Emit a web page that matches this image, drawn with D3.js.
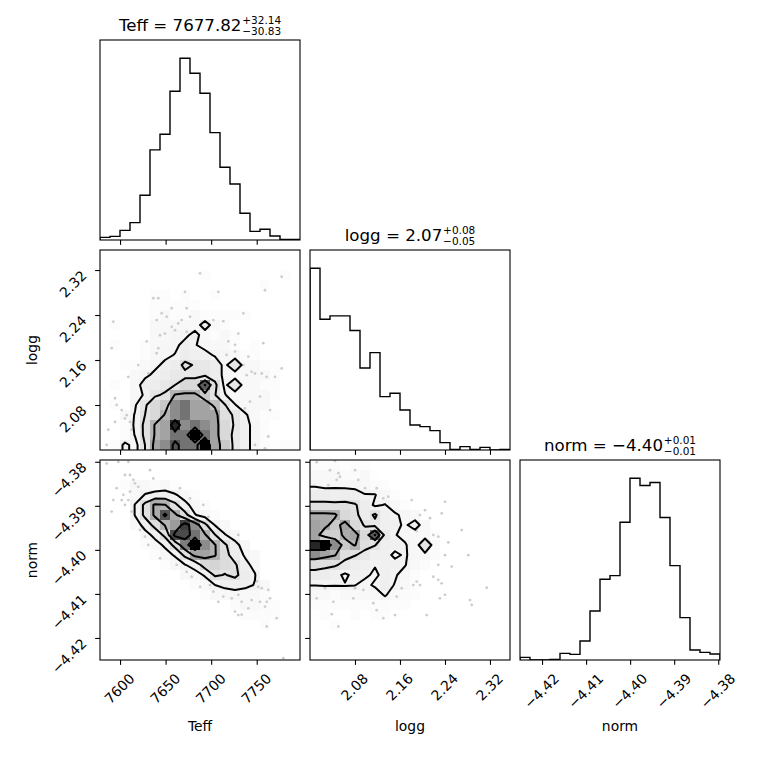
<!DOCTYPE html>
<html><head><meta charset="utf-8">
<script src="https://cdn.jsdelivr.net/npm/d3@7/dist/d3.min.js"></script>
<style>
html,body{margin:0;padding:0;background:#fff;}
svg text{font-family:"DejaVu Sans",sans-serif;fill:#000;}
</style>
</head><body>
<svg id="fig" width="760" height="760" xmlns="http://www.w3.org/2000/svg"></svg>
<script>
// ---------------- DATA ----------------
const paramNames = ["Teff", "logg", "norm"];
const teffRange = [7578.0, 7797.5];
const loggRange = [2.0, 2.3556];
const normRange = [-4.4250, -4.3796];
const teffTicks = [7600, 7650, 7700, 7750];
const loggTicks = [2.08, 2.16, 2.24, 2.32];
const normTicks = [-4.42, -4.41, -4.40, -4.39, -4.38];

// 1D histogram counts (20 bins each, relative units)
const teffHist = [8, 11, 29, 52, 134, 270, 317, 446, 545, 500, 440, 322, 218, 168, 80, 26, 32, 12, 2, 2];
const loggHist = [545, 392, 402, 402, 358, 246, 292, 160, 170, 120, 75, 70, 58, 22, 2, 10, 2, 8, 0, 2];
const normHist = [8, 0, 0, 2, 20, 17, 57, 147, 242, 253, 413, 545, 523, 532, 427, 283, 127, 30, 23, 18];

// titles: median, +err, -err
const teffTitle = ["7677.82", "+32.14", "\u221230.83"];
const loggTitle = ["2.07", "+0.08", "\u22120.05"];
const normTitle = ["\u22124.40", "+0.01", "\u22120.01"];

// contour levels on the 0-10 density scale
const contourLevels = [2.5, 4.5, 6.5, 8.5];

// 2D histograms (20x20, rows from top (high y) to bottom (low y))
const gridLoggTeff = [
[0,0,0,0,0,0,0,0,0,0,0,0,0,0,0,0,0,0,0,0],
[0,0,0,0,0,0,0,0,0,0,0,0,0,0,0,0,0,0,0,0],
[0,0,0,0,0,0,0,0,0,0,1,0,0,0,0,0,0,0,1,0],
[0,0,0,0,0,0,0,0,0,0,0,0,0,0,0,0,1,0,0,0],
[0,0,0,0,0,1,1,0,1,0,0,1,0,0,0,0,0,0,0,0],
[0,0,0,0,0,1,1,1,1,1,0,0,0,0,0,0,0,0,0,0],
[0,0,0,0,0,1,1.5,1,1,1.5,1,1,1,1,1,0,0,0,0,0],
[0,1,0,0,0,1.5,1.5,1.5,1.5,1.5,3.5,1.5,1,0,0,0,0,0,0,0],
[0,0,0,0,0,1.5,1.5,2,2,3.2,1.5,1,1.5,1,0,0,0,0,0,0],
[0,1,0,0,1,1.5,2,2,3.2,2.6,2,1.5,1.5,1,0,1,0,0,0,0],
[0,0,0,0,1,1.5,2,2.6,3.5,3,3,2.3,2,1.5,1,1,0,0,0,0],
[0,0,1,1,1.5,2,3,3.5,5,4.3,4,3.5,2,4.4,1.5,1.5,1,1,0,0],
[0,0,0,1.5,2,3,3.5,4,4,4,4.2,3.5,2,1.5,1.5,1.5,1.5,1,0,0],
[0,1,0,1.5,3.5,3.5,4,4.5,5.5,5.5,8.6,5,2,4.4,1.5,1.5,1,1,0,0],
[0.5,0,0,1.5,2.8,4.3,4.7,6.6,6.7,6.7,6,4.6,2.6,1.5,1.5,1.5,1.5,1,0,0],
[0,1,0,2.3,4.3,5.5,6,7.5,8,7,7,6.3,4.6,2.6,1.5,1.5,1.5,0,0,0],
[0,0,1.5,2.6,4.5,5.5,6.6,7.5,8,7,7,7,5,4.3,2.8,1.5,1,1,0,0],
[0,0,1,2.8,5,6.6,7,9.5,7.5,8,7.5,7,5.5,4.3,3,2,1,0,0,0],
[0,0,1,2.6,5,6.6,7,8,8,10,8,7,5.5,4,3,2,1,0,0,0],
[0,1,3,1.8,4.5,7,7.5,8.8,8,8,10,7,6,4,3,2,1,0.5,1,1]
];
const gridNormTeff = [
[0,0,0,0,0,0,0,0,0,0,0,0,0,0,0,0,0,0,0,0],
[0,0,0,0,0,0,0,0,0,0,0,0,0,0,0,0,0,0,0,0],
[0,0,1,1.5,1.5,1.2,1.5,1,0,0,0,0,0,0,0,0,0,0,0,0],
[0,0,0,1.5,2.6,3.2,3.3,2.7,1.8,1,0,0,0,0,0,0,0,0,0,0],
[0,0,0,2.6,5,6.8,6.6,5,3,1.8,1,0,0,0,0,0,0,0,0,0],
[0,0,0,2.6,5,6.8,8.8,6.8,5.2,2.6,1.8,1,0,0,0,0,0,0,0,0],
[0,0,0,1.5,3.2,5.2,6.6,7.2,9.2,7.5,5,2.4,1.5,0,0,0,0,0,0,0],
[0,0,0,0,1.8,3,5,9,9,8,6.7,4.6,2.6,1.8,0,0,0,0,0,0],
[0,0,0,0,1,1.8,2.8,5.2,7.8,10,7.5,6.6,4.8,3,1.8,0,0,0,0,0],
[0,0,0,0,0,1,1.8,2.7,5,7,7,6.6,5.2,3.5,2.3,1.5,0,0,0,0],
[0,0,0,0,0,0,1,1.5,2.4,3.2,5.5,5.6,5.2,4.8,3,2,0,0,0,0],
[0,0,0,0,0,0,0,0,1.5,1.8,2.7,4.8,4.4,5,3.5,2.6,0,0,0,0],
[0,0,0,0,0,0,0,0,0,1.2,1.5,2.5,3,3.2,3,2.4,1.5,0,0,0],
[0,0,0,0,0,0,0,0,0,0,1,1.5,1.5,1.8,1.5,1.5,1.2,0,0,0],
[0,0,0,0,0,0,0,0,0,0,0,0,0,1.2,1.5,1.5,1.2,1,0,0],
[0,0,0,0,0,0,0,0,0,0,0,0,0,0,1,1.2,1,1,0,0],
[0,0,0,0,0,0,0,0,0,0,0,0,0,0,0,0,1,0,0,0],
[0,0,0,0,0,0,0,0,0,0,0,0,0,0,0,0,0,0,0,0],
[0,0,0,0,0,0,0,0,0,0,0,0,0,0,0,0,0,0,0,0],
[0,0,0,0,0,0,0,0,0,0,0,0,0,0,0,0,0,0,0,0]
];
const gridNormLogg = [
[1,1,1,0.5,1,1,0,0,0,0,0,0,0,0,0,0,0,0,0,0],
[1.5,1.5,1.5,1.2,1.2,1.5,0.5,0,0,0,0,0,0,0,0,0,0,0,0,0],
[2.3,2,2.2,2,2,1.5,1.2,1,0,0,0,0,0,0,0,0,0,0,0,0],
[3.5,3.5,3.2,3.5,3.2,2.6,2.6,1.5,1,0,0,0,0,0,0,0,0,0,0,0],
[5,5,5,5,4.7,3.5,2.2,2.6,1.5,1,0,0,0,0,0,0,0,0,0,0],
[6.8,6.8,6.7,5.5,5,3.5,4.8,3,2.8,2,1.5,0,0,0,0,0,0,0,0,0],
[7,6.8,6,7,5.5,4.3,4,3,3,2.2,3.4,1.5,0,0,0,0,0,0,0,0],
[7,5.8,5.8,6.8,7,5.5,8.6,4,2.6,2,1.5,1.5,1,0,0,0,0,0,0,0],
[9.5,10,7.5,6,6.6,5,4.6,3.2,3,2.7,1.5,4.3,1.5,0,0,0,0,0,0,0],
[7.5,7,6.6,5,4.6,4,3,3,2.2,2.7,1.8,2,1.2,0,0,0,0,0,0,0],
[5.2,5,4.7,4,3.3,3,2.6,3,3,2.6,1.5,1.2,0,0,0,0,0,0,0,0],
[3.8,3.5,3,2.2,3,2.8,2.2,3,2.7,1.8,1,0,0,0,0,0,0,0,0,0],
[2.55,2.6,2.6,2.6,2.55,2,2.8,3.2,2.4,1.5,1,0,0,0,0,0,0,0,0,0],
[1.5,1.5,1.2,1.5,1.5,1.5,1.5,2.7,1.5,1.2,1,0,0,0,0,0,0,0,0,0],
[1,1,1,1,1,1,1,1.2,1,1,0,0,0,0,0,0,0,0,0,0],
[0,1,0,0,1,0,1,1,0,0,0,0,0,0,0,0,0,0,0,0],
[0,0,1,0,0,0,0,0,0,0,0,0,0,0,0,0,0,0,0,0],
[0,0,0,0,0,0,0,0,0,0,0,0,0,0,0,0,0,0,0,0],
[0,0,0,0,0,0,0,0,0,0,0,0,0,0,0,0,0,0,0,0],
[0,0,0,0,0,0,0,0,0,0,0,0,0,0,0,0,0,0,0,0]
];

// scattered samples outside the contours [x, y]
const ptsLoggTeff = [
[7687.8,2.314],[7777.4,2.308],[7759.1,2.284],[7707.9,2.281],[7671.3,2.281],[7642.0,2.270],[7636.5,2.270],[7673.1,2.252],[7645.7,2.243],[7651.2,2.237],[7676.8,2.237],[7702.4,2.231],[7713.3,2.229],[7663.9,2.225],[7592.6,2.228],[7656.7,2.219],[7660.3,2.213],[7649.3,2.207],[7643.9,2.204],[7673.1,2.210],[7729.8,2.207],[7718.8,2.193],[7757.2,2.190],[7642.0,2.181],[7640.2,2.172],[7629.2,2.193],[7590.8,2.181],[7735.3,2.243],[7726.2,2.175],[7740.8,2.166],[7717.0,2.169],[7748.1,2.136],[7755.5,2.136],[7761.0,2.130],[7770.1,2.130],[7739.0,2.133],[7744.5,2.139],[7735.3,2.151],[7777.4,2.145],[7753.6,2.095],[7764.6,2.071],[7594.5,2.092],[7601.8,2.071],[7607.3,2.062],[7610.9,2.050],[7594.5,2.050],[7587.1,2.036],[7612.8,2.036],[7585.3,2.009],[7748.1,2.009],[7759.1,2.003],[7762.7,2.024],[7737.1,2.074],[7742.6,2.086],[7620.0,2.151],[7609.1,2.130],[7631.0,2.136],[7726.2,2.187],[7700.6,2.169],[7656.7,2.252],[7640.2,2.231],[7667.6,2.231],[7605.4,2.056],[7596.3,2.080]
];
const ptsNormTeff = [
[7585.3,-4.3804],[7632.9,-4.3819],[7605.4,-4.3830],[7610.9,-4.3830],[7614.6,-4.3841],[7616.4,-4.3849],[7620.0,-4.3857],[7610.9,-4.3868],[7603.6,-4.3875],[7609.1,-4.3887],[7601.8,-4.3887],[7592.6,-4.3887],[7590.8,-4.3913],[7612.8,-4.3913],[7605.4,-4.3898],[7636.5,-4.3838],[7665.8,-4.3860],[7676.8,-4.3883],[7691.4,-4.3898],[7696.9,-4.3925],[7706.1,-4.3947],[7729.8,-4.3966],[7621.9,-4.3955],[7627.4,-4.3970],[7631.0,-4.3989],[7643.9,-4.4019],[7662.2,-4.4034],[7673.1,-4.4050],[7678.6,-4.4061],[7687.8,-4.4084],[7698.7,-4.4080],[7702.4,-4.4095],[7707.9,-4.4118],[7713.3,-4.4106],[7722.5,-4.4110],[7729.8,-4.4102],[7733.5,-4.4118],[7744.5,-4.4114],[7751.7,-4.4084],[7755.5,-4.4087],[7762.7,-4.4091],[7764.6,-4.4110],[7761.0,-4.4118],[7759.1,-4.4129],[7753.6,-4.4118],[7726.2,-4.4140],[7729.8,-4.4148],[7733.5,-4.4147],[7740.8,-4.4133],[7771.9,-4.4155],[7761.0,-4.4174],[7779.2,-4.4246],[7744.5,-4.4050],[7750.0,-4.4071],[7598.1,-4.3800],[7609.1,-4.3800],[7596.3,-4.3860]
];
const ptsNormLogg = [
[2.0119,-4.3801],[2.0445,-4.3798],[2.0356,-4.3819],[2.0504,-4.3826],[2.0533,-4.3834],[2.0474,-4.3841],[2.0800,-4.3819],[2.0859,-4.3841],[2.0326,-4.3853],[2.0978,-4.3860],[2.1186,-4.3860],[2.1392,-4.3879],[2.1303,-4.3883],[2.1808,-4.3887],[2.2045,-4.3910],[2.2400,-4.3891],[2.2341,-4.3917],[2.2134,-4.3928],[2.1867,-4.3947],[2.1897,-4.3957],[2.2193,-4.3966],[2.2281,-4.3970],[2.2697,-4.3955],[2.2459,-4.3983],[2.2815,-4.4012],[2.2519,-4.4038],[2.2400,-4.4012],[2.2281,-4.4034],[2.2193,-4.4061],[2.2281,-4.4068],[2.2341,-4.4076],[2.2311,-4.4110],[2.2400,-4.4102],[2.2845,-4.4114],[2.2875,-4.4125],[2.3142,-4.4086],[2.1897,-4.4072],[2.1956,-4.4080],[2.1837,-4.4080],[2.1541,-4.4106],[2.1511,-4.4148],[2.1303,-4.4155],[2.1186,-4.4137],[2.1126,-4.4121],[2.0948,-4.4091],[2.0770,-4.4110],[2.0800,-4.4087],[2.0119,-4.4110],[2.0415,-4.4118],[2.0386,-4.4146],[2.0504,-4.4174],[2.0593,-4.4080],[2.0267,-4.4087],[2.2075,-4.4148],[2.1630,-4.4087],[2.1956,-4.3921]
];

// ---------------- DRAWING ----------------
const svg = d3.select("#fig");
const L = 100, T = 40, S = 200, G = 10;
const FS = 13.9;
const params = {
  Teff: {range: teffRange, ticks: teffTicks, fmt: d3.format("d"), hist: teffHist, title: teffTitle},
  logg: {range: loggRange, ticks: loggTicks, fmt: d3.format(".2f"), hist: loggHist, title: loggTitle},
  norm: {range: normRange, ticks: normTicks, fmt: d3.format(".2f"), hist: normHist, title: normTitle}
};
const px0 = c => L + c * (S + G);
const py0 = r => T + r * (S + G);
const xScaleFor = (p, c) => d3.scaleLinear().domain(params[p].range).range([px0(c), px0(c) + S]);
const yScaleFor = (p, r) => d3.scaleLinear().domain(params[p].range).range([py0(r) + S, py0(r)]);
// density (0-10) -> opacity of the black-to-transparent density colormap
const shadeAlpha = d3.scaleLinear().domain([0, 1.5, 3.5, 5.5, 7, 8, 9, 10])
  .range([0, 0.16, 0.265, 0.39, 0.6, 0.74, 0.84, 1]).clamp(true);

const defs = svg.append("defs");
let clipId = 0;
function clipFor(c, r) {
  const id = "clip" + (clipId++);
  defs.append("clipPath").attr("id", id).append("rect")
    .attr("x", px0(c)).attr("y", py0(r)).attr("width", S).attr("height", S);
  return "url(#" + id + ")";
}

function xAxis(c, r, p, showLabels) {
  const sc = xScaleFor(p, c);
  const g = svg.append("g").attr("transform", `translate(0,${py0(r) + S})`);
  g.call(d3.axisBottom(sc).tickValues(params[p].ticks).tickSize(4.86)
    .tickFormat(showLabels ? params[p].fmt : () => ""));
  g.select(".domain").remove();
  g.selectAll(".tick line").attr("stroke", "#000").attr("stroke-width", 1.1);
  g.selectAll(".tick text").each(function () {
    const t = d3.select(this);
    t.attr("y", null).attr("dy", null).attr("font-size", FS).attr("text-anchor", "end");
    const w = this.getComputedTextLength();
    t.attr("transform", `translate(${0.3535 * (w + 7.2)},19.5) rotate(-45)`);
  });
}
function yAxis(c, r, p, showLabels) {
  const sc = yScaleFor(p, r);
  const g = svg.append("g").attr("transform", `translate(${px0(c)},0)`);
  g.call(d3.axisLeft(sc).tickValues(params[p].ticks).tickSize(4.86)
    .tickFormat(showLabels ? params[p].fmt : () => ""));
  g.select(".domain").remove();
  g.selectAll(".tick line").attr("stroke", "#000").attr("stroke-width", 1.1);
  g.selectAll(".tick text").each(function () {
    const t = d3.select(this);
    t.attr("x", null).attr("dy", null).attr("font-size", FS).attr("text-anchor", "end")
      .attr("transform", `translate(-12.5,6) rotate(-45)`);
  });
}
function spine(c, r) {
  svg.append("rect").attr("x", px0(c)).attr("y", py0(r)).attr("width", S).attr("height", S)
    .attr("fill", "none").attr("stroke", "#000").attr("stroke-width", 1.1);
}

// diagonal histograms
paramNames.forEach((p, k) => {
  const P = params[p];
  const xs = xScaleFor(p, k);
  const ys = d3.scaleLinear().domain([0, 1.1 * d3.max(P.hist)]).range([py0(k) + S, py0(k)]);
  const n = P.hist.length;
  const edges = d3.range(n + 1).map(i => P.range[0] + i * (P.range[1] - P.range[0]) / n);
  let d = `M${xs(edges[0])},${ys(0)}`;
  P.hist.forEach((v, i) => { d += `V${ys(v)}H${xs(edges[i + 1])}`; });
  d += `V${ys(0)}`;
  svg.append("path").attr("d", d).attr("fill", "none").attr("stroke", "#000")
    .attr("stroke-width", 1.4).attr("clip-path", clipFor(k, k));
  xAxis(k, k, p, k === paramNames.length - 1);
  spine(k, k);

  // title
  const cx = px0(k) + S / 2, by = py0(k) - 9;
  const tg = svg.append("g");
  const main = tg.append("text").attr("x", 0).attr("y", by).attr("font-size", 16.67)
    .text(`${p} = ${P.title[0]}`);
  const mw = main.node().getComputedTextLength();
  const sup = tg.append("text").attr("x", mw + 0.8).attr("y", by - 7).attr("font-size", 10.5).text(P.title[1]);
  const sub = tg.append("text").attr("x", mw + 0.8).attr("y", by + 3.5).attr("font-size", 10.5).text(P.title[2]);
  const tw = mw + 0.8 + Math.max(sup.node().getComputedTextLength(), sub.node().getComputedTextLength());
  tg.attr("transform", `translate(${cx - tw / 2},0)`);
});

// 2D panels
const panels2d = [
  {r: 1, c: 0, xp: "Teff", yp: "logg", grid: gridLoggTeff, pts: ptsLoggTeff},
  {r: 2, c: 0, xp: "Teff", yp: "norm", grid: gridNormTeff, pts: ptsNormTeff},
  {r: 2, c: 1, xp: "logg", yp: "norm", grid: gridNormLogg, pts: ptsNormLogg}
];

function padGrid(g) {
  const ny = g.length, nx = g[0].length;
  const mn = d3.min(g.flat());
  const P = Array.from({length: ny + 4}, () => new Array(nx + 4).fill(mn));
  for (let j = 0; j < ny; j++) for (let i = 0; i < nx; i++) P[j + 2][i + 2] = g[j][i];
  for (let j = 0; j < ny; j++) { P[j + 2][1] = g[j][0]; P[j + 2][nx + 2] = g[j][nx - 1]; }
  for (let i = 0; i < nx; i++) { P[1][i + 2] = g[0][i]; P[ny + 2][i + 2] = g[ny - 1][i]; }
  P[1][1] = g[0][0]; P[1][nx + 2] = g[0][nx - 1]; P[ny + 2][1] = g[ny - 1][0]; P[ny + 2][nx + 2] = g[ny - 1][nx - 1];
  return {values: P.flat(), w: nx + 4, h: ny + 4};
}

panels2d.forEach(pn => {
  const xs = xScaleFor(pn.xp, pn.c), ys = yScaleFor(pn.yp, pn.r);
  const xr = params[pn.xp].range, yr = params[pn.yp].range;
  const ny = pn.grid.length, nx = pn.grid[0].length;
  const bw = (xr[1] - xr[0]) / nx, bh = (yr[1] - yr[0]) / ny;
  const clip = clipFor(pn.c, pn.r);
  const g = svg.append("g").attr("clip-path", clip);

  // data points
  g.append("g").selectAll("circle").data(pn.pts).join("circle")
    .attr("cx", d => xs(d[0])).attr("cy", d => ys(d[1])).attr("r", 1.4)
    .attr("fill", "#000").attr("fill-opacity", 0.2);

  // contours
  const pad = padGrid(pn.grid);
  const proj = d3.geoTransform({
    point: function (gx, gy) {
      this.stream.point(xs(xr[0] + (gx - 2) * bw), ys(yr[1] - (gy - 2) * bh));
    }
  });
  const path = d3.geoPath(proj);
  const conts = d3.contours().size([pad.w, pad.h]).thresholds(contourLevels)(pad.values);

  // white base fill above lowest level
  g.append("path").attr("d", path(conts[0])).attr("fill", "#fff").attr("fill-rule", "evenodd");

  // density cells
  const cells = [];
  pn.grid.forEach((row, j) => row.forEach((v, i) => cells.push({i, j, v})));
  g.append("g").selectAll("rect").data(cells.filter(d => d.v > 0)).join("rect")
    .attr("x", d => xs(xr[0] + d.i * bw))
    .attr("y", d => ys(yr[1] - d.j * bh))
    .attr("width", d => xs(xr[0] + (d.i + 1) * bw) - xs(xr[0] + d.i * bw))
    .attr("height", d => ys(yr[1] - (d.j + 1) * bh) - ys(yr[1] - d.j * bh))
    .attr("fill", d => { const a = shadeAlpha(d.v); const c = Math.round(255 * (1 - a)); return `rgb(${c},${c},${c})`; })
    .attr("fill-opacity", d => shadeAlpha(d.v))
    .attr("shape-rendering", "crispEdges");

  // contour lines
  g.append("g").selectAll("path").data(conts).join("path")
    .attr("d", d => path(d)).attr("fill", "none").attr("stroke", "#000")
    .attr("stroke-width", 2.0).attr("stroke-linejoin", "round");

  xAxis(pn.c, pn.r, pn.xp, pn.r === 2);
  yAxis(pn.c, pn.r, pn.yp, pn.c === 0);
  spine(pn.c, pn.r);
});

// axis labels
paramNames.forEach((p, k) => {
  svg.append("text").attr("x", px0(k) + S / 2).attr("y", 731).attr("text-anchor", "middle")
    .attr("font-size", FS).text(p);
});
[1, 2].forEach(r => {
  svg.append("text").attr("transform", `translate(37,${py0(r) + S / 2}) rotate(-90)`)
    .attr("text-anchor", "middle").attr("font-size", FS).text(paramNames[r]);
});
</script>
</body></html>
